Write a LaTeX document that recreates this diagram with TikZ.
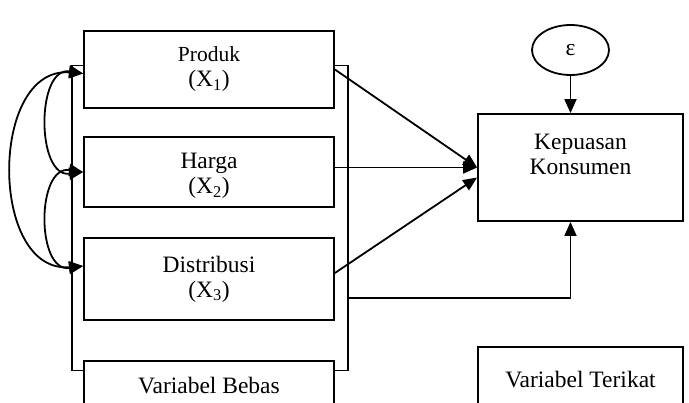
\documentclass[tikz,border=0pt]{standalone}
\usepackage{fontspec}
\setmainfont{Liberation Serif}
\usetikzlibrary{arrows.meta,shapes}
\tikzstyle{varbox}=[draw,fill=white,line width=1.8pt,minimum width=250pt,inner sep=0pt,align=center]
\tikzstyle{depbox}=[varbox,minimum width=205pt]
\tikzstyle{arrow}=[draw,line width=1.8pt,-{Triangle[length=14pt,width=12pt]}]
\tikzstyle{dblarrow}=[draw,line width=1.8pt,{Triangle[length=14pt,width=12pt]}-{Triangle[length=14pt,width=12pt]}]
\newcommand{\lbl}{\fontsize{23.5}{25}\selectfont}
\newcommand{\smlbl}{\fontsize{21.5}{25}\selectfont}

\begin{document}
\begin{tikzpicture}[x=1pt,y=-1pt,font=\lbl]
    \clip (0,0) rectangle (689,403);
    % frame round the independent variables
    \node[draw,line width=1.8pt,minimum width=276pt,minimum height=305pt,inner sep=0pt] (frame) at (210,218) {};
    \node[varbox,minimum height=77pt] (produk) at (209,69.5) {{\smlbl Produk}\\(X\textsubscript{1})};
    \node[varbox,minimum height=70pt,label={[name=hargatext,yshift=-4pt,align=center,font=\lbl]center:Harga\\(X\textsubscript{2})}] (harga) at (209,172) {};
    \node[varbox,minimum height=82pt] (distribusi) at (209,279) {Distribusi\\(X\textsubscript{3})};
    \node[varbox,minimum height=49pt] (bebas) at (209,385.5) {Variabel Bebas};
    \node[depbox,minimum height=107pt,label={[name=kepuasantext,yshift=13pt,align=center,font=\lbl]center:Kepuasan\\Konsumen}] (kepuasan) at (580.5,167.5) {};
    \node[depbox,minimum height=66pt] (terikat) at (580.5,380) {Variabel Terikat};
    \node[draw,ellipse,line width=1.8pt,minimum width=77pt,minimum height=50pt,inner sep=0pt] (eps) at (570.5,50) {ε};
    % correlations
    \path[dblarrow] ([yshift=-4pt]produk.west) .. controls (-11,66) and (-11,274) .. ([yshift=13pt]distribusi.west);
    \path[dblarrow] ([yshift=-4pt]produk.west) .. controls (36,66) and (36,178) .. (harga.west);
    \path[dblarrow] (harga.west) .. controls (36,165) and (36,273) .. ([yshift=13pt]distribusi.west);
    % effects
    \path[arrow] (produk.east) -- (kepuasan.west);
    \path[arrow] (harga.east |- kepuasan.west) -- (kepuasan.west);
    \path[arrow] ([yshift=6pt]distribusi.east) -- ([yshift=-10pt]kepuasan.west);
    \coordinate (tap) at (frame.east |- 0,298);
    \path[arrow] (tap) -| (eps.south |- kepuasan.south);
    \path[arrow] (eps.south) -- (eps.south |- kepuasan.north);
\end{tikzpicture}
\end{document}
